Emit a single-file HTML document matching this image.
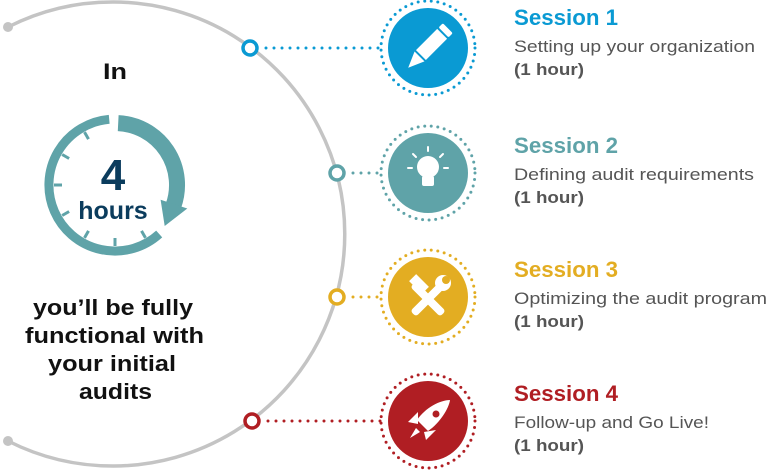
<!DOCTYPE html>
<html><head><meta charset="utf-8"><style>
html,body{margin:0;padding:0;background:#fff}
svg{display:block}
text{font-family:"Liberation Sans",sans-serif}
</style></head><body>
<svg width="768" height="471" viewBox="0 0 768 471" xmlns="http://www.w3.org/2000/svg">
<path d="M8 27 A232 232 0 1 1 8 441" fill="none" stroke="#c4c4c4" stroke-width="3.5"/>
<circle cx="8" cy="27" r="5" fill="#c4c4c4"/>
<circle cx="8" cy="441" r="5" fill="#c4c4c4"/>

<g stroke-linecap="round" stroke-width="3" fill="none">
<line x1="266" y1="48" x2="382" y2="48" stroke="#0a9ad3" stroke-dasharray="0 8"/>
<line x1="353" y1="173" x2="382" y2="173" stroke="#5fa3a8" stroke-dasharray="0 8"/>
<line x1="353" y1="297" x2="382" y2="297" stroke="#e3ad22" stroke-dasharray="0 8"/>
<line x1="268" y1="421" x2="382" y2="421" stroke="#b01e23" stroke-dasharray="0 8"/>
</g>
<g fill="#fff" stroke-width="3.5">
<circle cx="250" cy="48" r="7" stroke="#0a9ad3"/>
<circle cx="337" cy="173" r="7" stroke="#5fa3a8"/>
<circle cx="337" cy="297" r="7" stroke="#e3ad22"/>
<circle cx="252" cy="421" r="7" stroke="#b01e23"/>
</g>

<g stroke-linecap="round" stroke-width="3" fill="none" stroke-dasharray="0 6.6">
<circle cx="428" cy="48" r="47" stroke="#0a9ad3"/>
<circle cx="428" cy="173" r="47" stroke="#5fa3a8"/>
<circle cx="428" cy="297" r="47" stroke="#e3ad22"/>
<circle cx="428" cy="421" r="47" stroke="#b01e23"/>
</g>
<circle cx="428" cy="48" r="40" fill="#0a9ad3"/>
<circle cx="428" cy="173" r="40" fill="#5fa3a8"/>
<circle cx="428" cy="297" r="40" fill="#e3ad22"/>
<circle cx="428" cy="421" r="40" fill="#b01e23"/>

<g transform="rotate(45 428 48)" fill="#fff">
<rect x="421" y="20" width="14" height="6" rx="1.5"/>
<rect x="421" y="28" width="14" height="30"/>
<polygon points="421,60 435,60 428,76"/>
</g>
<g fill="none" stroke="#fff" stroke-width="2" stroke-linecap="round">
<circle cx="428" cy="167" r="11" fill="#fff" stroke="none"/>
<rect x="422" y="176" width="12" height="10" rx="2" fill="#fff" stroke="none"/>
<line x1="428" y1="147" x2="428" y2="151"/>
<line x1="413" y1="154" x2="416" y2="157"/>
<line x1="443" y1="154" x2="440" y2="157"/>
<line x1="408" y1="168" x2="412" y2="168"/>
<line x1="444" y1="168" x2="448" y2="168"/>
</g>
<g fill="#fff">
<rect x="424" y="278" width="8" height="42" rx="3" transform="rotate(-45 428 299)"/>
<rect x="424" y="278" width="8" height="42" rx="3" transform="rotate(45 428 299)"/>
<rect x="410" y="279" width="18" height="10" transform="rotate(45 419 284)"/>
<circle cx="443" cy="283" r="8"/>
</g>
<circle cx="446" cy="280" r="4" fill="#e3ad22"/>
<g fill="#fff">
<path d="M450 400 C440 400 425 408 417 420 L428 431 C440 423 449 408 450 400 Z"/>
<path d="M418 412 L408 422 L418 424 Z"/>
<path d="M436 430 L426 440 L424 432 Z"/>
<path d="M416 428 L410 438 L420 432 Z"/>
</g>
<circle cx="436" cy="414" r="3.5" fill="#b01e23"/>

<g font-weight="bold" font-size="22">
<text x="514" y="25" fill="#0a9ad3" textLength="104" lengthAdjust="spacingAndGlyphs">Session 1</text>
<text x="514" y="153" fill="#5fa3a8" textLength="104" lengthAdjust="spacingAndGlyphs">Session 2</text>
<text x="514" y="277" fill="#e3ad22" textLength="104" lengthAdjust="spacingAndGlyphs">Session 3</text>
<text x="514" y="401" fill="#b01e23" textLength="104" lengthAdjust="spacingAndGlyphs">Session 4</text>
</g>
<g font-size="17" fill="#555">
<text x="514" y="52" textLength="241" lengthAdjust="spacingAndGlyphs">Setting up your organization</text>
<text x="514" y="180" textLength="240" lengthAdjust="spacingAndGlyphs">Defining audit requirements</text>
<text x="514" y="304" textLength="253" lengthAdjust="spacingAndGlyphs">Optimizing the audit program</text>
<text x="514" y="428" textLength="195" lengthAdjust="spacingAndGlyphs">Follow-up and Go Live!</text>
</g>
<g font-size="17" fill="#555" font-weight="bold">
<text x="514" y="75" textLength="70" lengthAdjust="spacingAndGlyphs">(1 hour)</text>
<text x="514" y="203" textLength="70" lengthAdjust="spacingAndGlyphs">(1 hour)</text>
<text x="514" y="327" textLength="70" lengthAdjust="spacingAndGlyphs">(1 hour)</text>
<text x="514" y="451" textLength="70" lengthAdjust="spacingAndGlyphs">(1 hour)</text>
</g>

<text x="103" y="79" font-size="22" font-weight="bold" fill="#111" textLength="24" lengthAdjust="spacingAndGlyphs">In</text>
<g fill="none" stroke="#5fa3a8">
<path d="M159.2 234 A66 66 0 1 1 109.2 119.3" stroke-width="9"/>
<path d="M118.2 123.1 A62 62 0 0 1 173.3 206.2" stroke-width="16"/>
<g stroke-width="3">
<line x1="115" y1="124" x2="115" y2="132" transform="rotate(150 115 185)"/>
<line x1="115" y1="124" x2="115" y2="132" transform="rotate(180 115 185)"/>
<line x1="115" y1="124" x2="115" y2="132" transform="rotate(210 115 185)"/>
<line x1="115" y1="124" x2="115" y2="132" transform="rotate(240 115 185)"/>
<line x1="115" y1="124" x2="115" y2="132" transform="rotate(270 115 185)"/>
<line x1="115" y1="124" x2="115" y2="132" transform="rotate(300 115 185)"/>
<line x1="115" y1="124" x2="115" y2="132" transform="rotate(330 115 185)"/>
</g>
</g>
<polygon points="160.6,199.8 187.3,208.5 164.7,226" fill="#5fa3a8"/>
<text x="113" y="190" font-size="44" font-weight="bold" text-anchor="middle" fill="#0b3c5d">4</text>
<text x="113" y="219" font-size="25" font-weight="bold" text-anchor="middle" fill="#0b3c5d">hours</text>

<g font-size="22" font-weight="bold" fill="#111">
<text x="33" y="315" textLength="160" lengthAdjust="spacingAndGlyphs">you’ll be fully</text>
<text x="25" y="343" textLength="179" lengthAdjust="spacingAndGlyphs">functional with</text>
<text x="48" y="371" textLength="128" lengthAdjust="spacingAndGlyphs">your initial</text>
<text x="79" y="399" textLength="73" lengthAdjust="spacingAndGlyphs">audits</text>
</g>
</svg>
</body></html>
